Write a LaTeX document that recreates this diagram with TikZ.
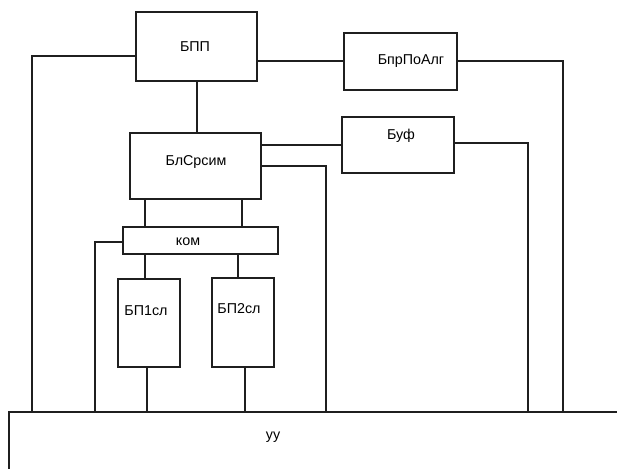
\documentclass[tikz,border=0pt]{standalone}
\usepackage{fontspec}
\setmainfont{Liberation Sans}
\begin{document}
\begin{tikzpicture}[x=1pt,y=-1pt,
  blk/.style={draw=black!88,line width=2pt,inner sep=0pt,minimum width=#1},
  lbl/.style={inner sep=0pt,font=\fontsize{14.3}{16}\selectfont},
  wire/.style={draw=black!88,line width=2pt}]
\useasboundingbox (0,0) rectangle (617,468);
% boxes
\node[blk=121pt,minimum height=69pt] (bpp) at (196.5,46.5) {};
\node[blk=113pt,minimum height=57pt] (alg) at (400.5,61.5) {};
\node[blk=131pt,minimum height=66pt] (bls) at (195.5,166) {};
\node[blk=112pt,minimum height=56pt] (buf) at (398,145) {};
\node[blk=155pt,minimum height=27pt] (kom) at (200.5,240.5) {};
\node[blk=62pt,minimum height=88pt] (bp1) at (149,323) {};
\node[blk=62pt,minimum height=89pt] (bp2) at (243,322.5) {};
% labels
\node[lbl] (tbpp) at (195,47) {БПП};
\node[lbl] (talg) at (411,61) {БпрПоАлг};
\node[lbl] (tbls) at (196,162) {БлСрсим};
\node[lbl] (tbuf) at (401,136) {Буф};
\node[lbl] (tkom) at (188,242) {ком};
\node[lbl] (tbp1) at (146,311) {БП1сл};
\node[lbl] (tbp2) at (239,309) {БП2сл};
\node[lbl] (tuu) at (273,437) {уу};
% УУ block (open outline)
\coordinate (uuL) at (9,412);
\coordinate (uuR) at (617,412);
\coordinate (uuB) at (9,468);
\draw[wire,line cap=rect] (uuR) -- (uuL) -- (uuB);
% bus taps
\coordinate (p1) at (32,412);
\coordinate (p2) at (95,412);
\coordinate (p3) at (147,412);
\coordinate (p4) at (245,412);
\coordinate (p5) at (326,412);
\coordinate (p6) at (528,412);
\coordinate (p7) at (563,412);
% connectors
\draw[wire] (bpp.west |- 0,56) -| (p1);
\draw[wire] (bpp.east |- 0,61) -- (alg.west |- 0,61);
\draw[wire] (alg.east |- 0,61) -| (p7);
\draw[wire] (197,0 |- bpp.south) -- (197,0 |- bls.north);
\draw[wire] (bls.east |- 0,145) -- (buf.west |- 0,145);
\draw[wire] (bls.east |- 0,166) -| (p5);
\draw[wire] (buf.east |- 0,143) -| (p6);
\draw[wire] (145,0 |- bls.south) -- (145,0 |- kom.north);
\draw[wire] (242,0 |- bls.south) -- (242,0 |- kom.north);
\draw[wire] (kom.west |- 0,242) -| (p2);
\draw[wire] (145,0 |- kom.south) -- (145,0 |- bp1.north);
\draw[wire] (238,0 |- kom.south) -- (238,0 |- bp2.north);
\draw[wire] (147,0 |- bp1.south) -- (p3);
\draw[wire] (245,0 |- bp2.south) -- (p4);
\end{tikzpicture}
\end{document}
